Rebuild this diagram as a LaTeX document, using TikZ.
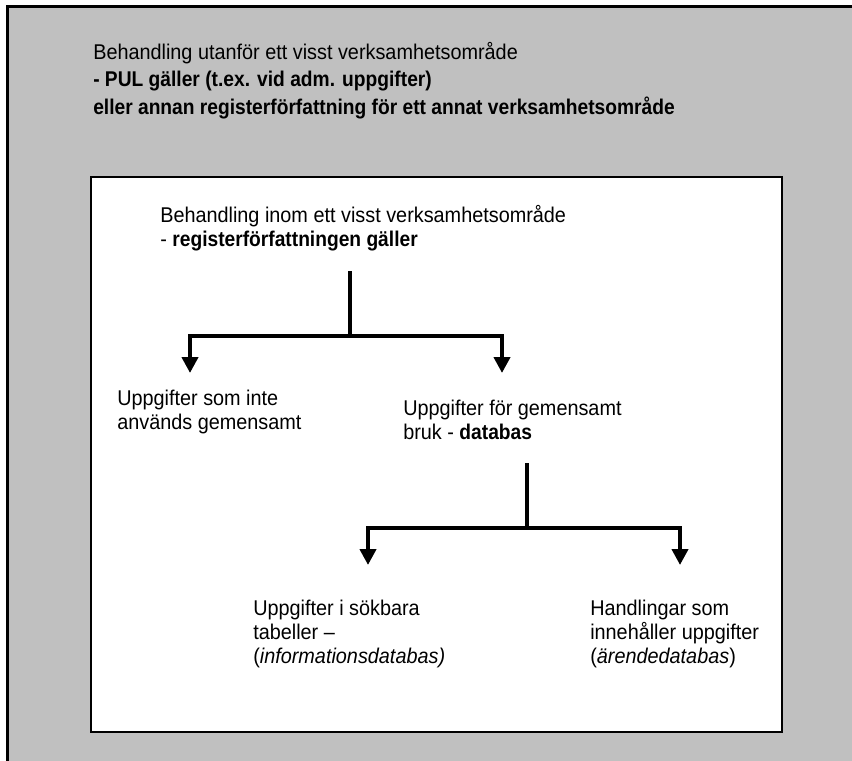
\documentclass[tikz,border=0pt]{standalone}
\usepackage{fontspec}
\setmainfont[FakeStretch=0.93,BoldFeatures={FakeStretch=0.90}]{Liberation Sans}
\usepackage{tikz}
\usetikzlibrary{%
  arrows.meta%
  ,positioning%
}
\definecolor{boxgray}{HTML}{C0C0C0}

\begin{document}
\begin{tikzpicture}[x=0.75pt,y=-0.75pt,
    txt/.style={anchor=north west,align=left,inner sep=0pt,
      font=\fontsize{16}{18}\selectfont},
    wide/.style={font=\fontsize{16}{20.6}\selectfont},
    branch/.style={line width=3pt},
    pil/.style={line width=3pt,-{Triangle[width=12pt,length=12pt]}}]
      \useasboundingbox (0,0) rectangle (852,760);
      \begin{scope}
        \clip (0,0) rectangle (852,760);
        \draw[line width=2.25pt,fill=boxgray] (7,6) rectangle (890,800);
      \end{scope}
      \draw[line width=1.5pt,fill=white] (91,177) rectangle (782,732);
      % texts
      \node[txt,wide] (utanfor) at (93,42) {Behandling utanför ett visst verksamhetsområde\\
        \textbf{- PUL gäller (t.ex. vid adm. uppgifter)}\\
        \textbf{eller annan registerförfattning för ett annat verksamhetsområde}};
      \node[txt] (inom) at (160,205) {Behandling inom ett visst verksamhetsområde\\
        - \textbf{registerförfattningen gäller}};
      \node[txt] (ejgem) at (117,390) {Uppgifter som inte\\ används gemensamt};
      \node[txt] (gem) at (403,400) {Uppgifter för gemensamt\\ bruk - \textbf{databas}};
      \node[txt] (sokbar) at (253,600) {Uppgifter i sökbara\\ tabeller --\\
        (\textit{informationsdatabas)}};
      \node[txt] (arende) at (590,600) {Handlingar som\\ innehåller uppgifter\\
        (\textit{ärendedatabas})};
      % first fork
      \coordinate (top1) at (350,271);
      \coordinate (fork1) at (350,336);
      \coordinate (tip1a) at (190,373);
      \coordinate (tip1b) at (502,373);
      \draw[branch] (top1) -- ([yshift=-1.5pt]fork1);
      \draw[pil] (fork1) -| (tip1a);
      \draw[pil] (fork1) -| (tip1b);
      % second fork
      \coordinate (top2) at (527,463);
      \coordinate (fork2) at (527,528);
      \coordinate (tip2a) at (368,565);
      \coordinate (tip2b) at (680,565);
      \draw[branch] (top2) -- ([yshift=-1.5pt]fork2);
      \draw[pil] (fork2) -| (tip2a);
      \draw[pil] (fork2) -| (tip2b);
    \end{tikzpicture}
\end{document}
